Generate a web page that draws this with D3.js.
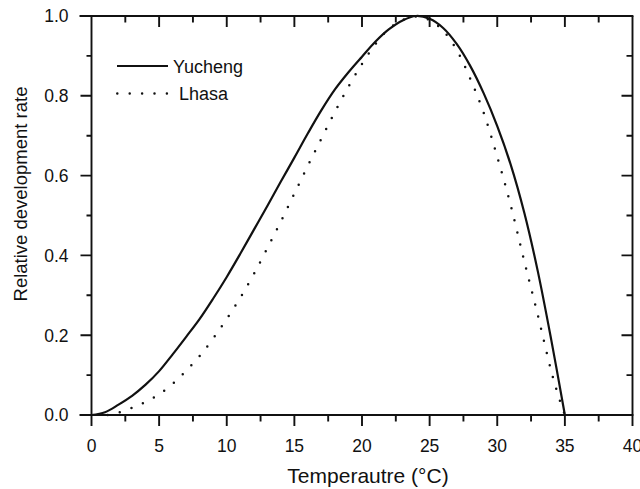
<!DOCTYPE html>
<html>
<head>
<meta charset="utf-8">
<script src="https://cdn.jsdelivr.net/npm/d3@7"></script>
<style>
	body { margin: 0; background: #fff; }
	text { font-family: "Liberation Sans", Arial, sans-serif; fill: #111; }
</style>
</head>
<body>
<script>
(function () {
	"use strict";

	// values
	let yuchengT = [0, 1, 2, 3, 4, 5, 6, 7, 8, 9, 10, 11, 12, 13, 14, 15, 16, 17, 18, 19, 20, 21, 22, 23, 24, 25, 26, 27, 28, 29, 30, 31, 32, 33, 34, 35];
	let yuchengR = [0, 0.007, 0.026, 0.048, 0.076, 0.11, 0.152, 0.196, 0.241, 0.292, 0.346, 0.404, 0.464, 0.524, 0.585, 0.645, 0.706, 0.764, 0.816, 0.859, 0.898, 0.936, 0.967, 0.989, 1.0, 0.993, 0.97, 0.93, 0.875, 0.806, 0.724, 0.627, 0.507, 0.36, 0.187, 0];

	let lhasaT = [1.2, 2, 3, 4, 5, 6, 7, 8, 9, 10, 11, 12, 13, 14, 15, 16, 17, 18, 19, 20, 21, 22, 23, 24, 25, 26, 27, 28, 29, 30, 31, 32, 33, 34, 34.5, 35];
	let lhasaR = [0, 0.006, 0.018, 0.033, 0.052, 0.078, 0.111, 0.148, 0.192, 0.241, 0.294, 0.353, 0.418, 0.485, 0.555, 0.625, 0.693, 0.76, 0.823, 0.88, 0.93, 0.968, 0.99, 0.999, 0.99, 0.963, 0.915, 0.843, 0.757, 0.647, 0.525, 0.385, 0.25, 0.109, 0.05, 0];

	let seriesNames = ['Yucheng', 'Lhasa'];
	let xTicks = [0, 5, 10, 15, 20, 25, 30, 35, 40];
	let xMinor = [2.5, 7.5, 12.5, 17.5, 22.5, 27.5, 32.5, 37.5];
	let yTicks = [0, 0.2, 0.4, 0.6, 0.8, 1.0];
	let yMinor = [0.1, 0.3, 0.5, 0.7, 0.9];

	let w = 640;
	let h = 489;
	let m = { top: 16, right: 7.5, bottom: 74, left: 91.5 };

	let svg = d3.select('body').append('svg')
		.attr('width', w)
		.attr('height', h);

	let x = d3.scaleLinear().domain([0, 40]).range([m.left, w - m.right]);
	let y = d3.scaleLinear().domain([0, 1]).range([h - m.bottom, m.top]);

	let ink = '#111';

	// tick marks: bottom/left point out, top/right point in
	let p = d3.path();
	function xTickMarks(values, yPos, len) {
		values.forEach((d) => { p.moveTo(x(d), yPos); p.lineTo(x(d), yPos + len); });
	}
	function yTickMarks(values, xPos, len) {
		values.forEach((d) => { p.moveTo(xPos, y(d)); p.lineTo(xPos - len, y(d)); });
	}

	xTickMarks(xTicks, y(0), 11);
	xTickMarks(xMinor, y(0), 6.5);
	xTickMarks(xTicks.slice(1, -1), y(1), 11);
	xTickMarks(xMinor, y(1), 6.5);
	yTickMarks(yTicks, x(0), 11);
	yTickMarks(yMinor, x(0), 5);
	yTickMarks(yTicks.slice(1, -1), x(40), 11);
	yTickMarks(yMinor, x(40), 6);

	svg.append('path')
		.attr('d', p.toString())
		.attr('fill', 'none')
		.attr('stroke', ink)
		.attr('stroke-width', 1.9);

	svg.append('g').selectAll('text')
		.data(xTicks)
		.enter()
		.append('text')
		.attr('x', (d) => x(d))
		.attr('y', 452)
		.attr('text-anchor', 'middle')
		.attr('font-size', 17.5)
		.text((d) => d3.format('d')(d));

	svg.append('g').selectAll('text')
		.data(yTicks)
		.enter()
		.append('text')
		.attr('x', 68.5)
		.attr('y', (d) => y(d))
		.attr('dy', '0.36em')
		.attr('text-anchor', 'end')
		.attr('font-size', 17.5)
		.text((d) => d3.format('.1f')(d));

	// frame (horizontal lines run a little past the left axis, as in the original)
	let frame = svg.append('g').attr('stroke', ink).attr('stroke-width', 1.9);
	frame.append('line').attr('x1', x(0) - 12).attr('x2', x(40) + 0.9).attr('y1', y(1)).attr('y2', y(1));
	frame.append('line').attr('x1', x(0) - 12).attr('x2', x(40) + 0.9).attr('y1', y(0)).attr('y2', y(0));
	frame.append('line').attr('x1', x(0)).attr('x2', x(0)).attr('y1', y(1)).attr('y2', y(0));
	frame.append('line').attr('x1', x(40)).attr('x2', x(40)).attr('y1', y(1)).attr('y2', y(0));

	let line = d3.line()
		.x((d) => x(d[0]))
		.y((d) => y(d[1]))
		.curve(d3.curveCatmullRom.alpha(0.5));

	svg.append('path')
		.datum(d3.zip(yuchengT, yuchengR))
		.attr('d', line)
		.attr('fill', 'none')
		.attr('stroke', ink)
		.attr('stroke-width', 2.2);

	svg.append('path')
		.datum(d3.zip(lhasaT, lhasaR))
		.attr('d', line)
		.attr('fill', 'none')
		.attr('stroke', ink)
		.attr('stroke-width', 2.5)
		.attr('stroke-linecap', 'round')
		.attr('stroke-dasharray', '0,12.4');

	// legend
	let legend = svg.append('g');
	legend.append('line')
		.attr('x1', 117).attr('x2', 168).attr('y1', 66).attr('y2', 66)
		.attr('stroke', ink).attr('stroke-width', 2.2);
	legend.append('text')
		.attr('x', 173).attr('y', 72.5)
		.attr('font-size', 18)
		.text(seriesNames[0]);
	legend.append('line')
		.attr('x1', 117.3).attr('x2', 168).attr('y1', 93.5).attr('y2', 93.5)
		.attr('stroke', ink).attr('stroke-width', 2.5)
		.attr('stroke-linecap', 'round')
		.attr('stroke-dasharray', '0,12.4');
	legend.append('text')
		.attr('x', 179).attr('y', 100)
		.attr('font-size', 18)
		.text(seriesNames[1]);

	// axis titles
	svg.append('text')
		.attr('x', 368).attr('y', 483)
		.attr('text-anchor', 'middle')
		.attr('font-size', 21)
		.text('Temperautre (°C)');

	svg.append('text')
		.attr('transform', 'translate(27,194) rotate(-90)')
		.attr('text-anchor', 'middle')
		.attr('font-size', 18.5)
		.text('Relative development rate');

})();
</script>
</body>
</html>
